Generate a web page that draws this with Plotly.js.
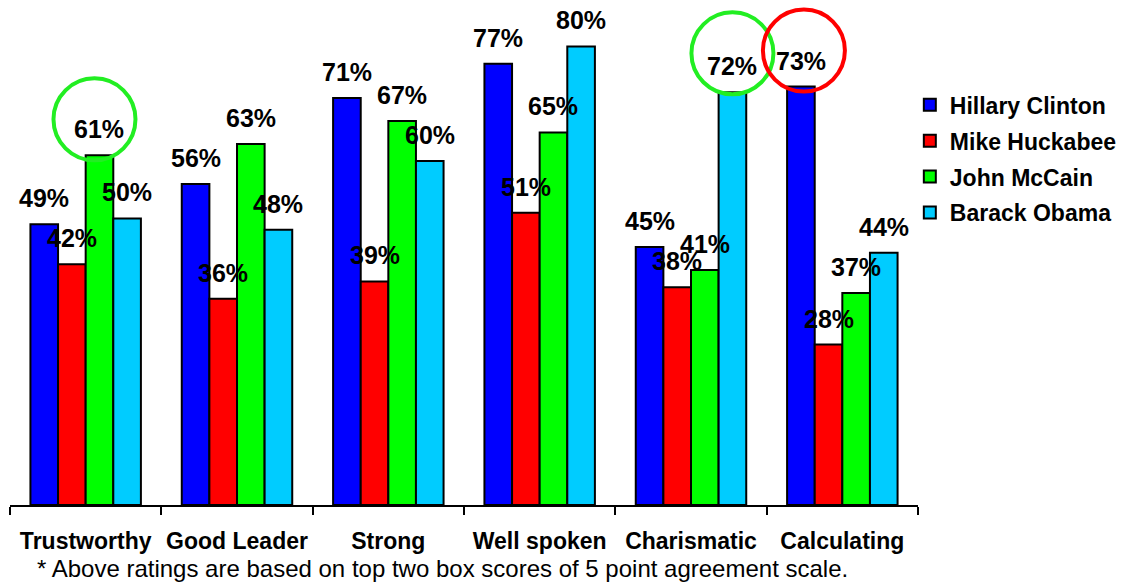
<!DOCTYPE html>
<html>
<head>
<meta charset="utf-8">
<script src="https://cdn.plot.ly/plotly-3.0.1.min.js"></script>
<style>html,body{margin:0;padding:0;background:#fff}#chart{width:1130px;height:582px}</style>
</head>
<body>
<div id="chart"></div>
<script>
const categories = ["Trustworthy", "Good Leader", "Strong", "Well spoken", "Charismatic", "Calculating"];
const seriesNames = ["Hillary Clinton", "Mike Huckabee", "John McCain", "Barack Obama"];
const clinton = [49, 56, 71, 77, 45, 73];
const huckabee = [42, 36, 39, 51, 38, 28];
const mccain = [61, 63, 67, 65, 41, 37];
const obama = [50, 48, 60, 80, 72, 44];
const footnote = "* Above ratings are based on top two box scores of 5 point agreement scale.";
// highlighted values: [category index, series index, circle colour]
const circled = [[0, 2, "#22EE22"], [4, 3, "#22EE22"], [5, 0, "#FF0000"]];
const circleShift = [[-5, -3], [0, 0], [3, -3]];

const seriesValues = [clinton, huckabee, mccain, obama];
const colors = ["#0000FF", "#FF0000", "#00FF00", "#00CCFF"];
const bargap = 0.27;
const nSeries = seriesValues.length;
const barW = (1 - bargap) / nSeries;
const offsetOf = s => (s - (nSeries - 1) / 2) * barW;
const FONT = "Liberation Sans, Arial, sans-serif";

const traces = seriesValues.map((vals, s) => ({
  type: "bar",
  name: seriesNames[s],
  legendgroup: "g" + s,
  x: categories,
  y: vals,
  marker: {color: colors[s], line: {color: "#000", width: 2}},
  hoverinfo: "skip"
}));

const annotations = [];
seriesValues.forEach((vals, s) => {
  vals.forEach((v, i) => {
    annotations.push({
      xref: "x", yref: "y", x: i + offsetOf(s), y: v,
      text: v + "%", showarrow: false, xanchor: "center", yanchor: "middle",
      yshift: 26,
      font: {family: FONT, size: 25, color: "#000", weight: "bold"}
    });
  });
});
annotations.push({
  xref: "paper", yref: "paper", x: 0.476, y: -0.125, xanchor: "center", yanchor: "middle",
  text: footnote, showarrow: false,
  font: {family: FONT, size: 24, color: "#000"}
});

const shapes = circled.map(([i, s, col], k) => ({
  type: "circle", xref: "x", yref: "y",
  xsizemode: "pixel", ysizemode: "pixel",
  xanchor: i + offsetOf(s), yanchor: seriesValues[s][i],
  x0: -41 + circleShift[k][0], x1: 41 + circleShift[k][0],
  y0: -2 + circleShift[k][1], y1: 80 + circleShift[k][1],
  line: {color: col, width: 4}, fillcolor: "rgba(0,0,0,0)"
}));

const layout = {
  width: 1130, height: 582,
  margin: {l: 10, r: 212, t: 0, b: 77},
  paper_bgcolor: "#fff", plot_bgcolor: "#fff",
  barmode: "group", bargap: bargap, bargroupgap: 0,
  showlegend: true,
  legend: {
    x: 0.991, xanchor: "left", y: 0.835, yanchor: "top",
    font: {family: FONT, size: 23, color: "#000", weight: "bold"},
    tracegroupgap: 3, traceorder: "grouped", bgcolor: "rgba(0,0,0,0)"
  },
  xaxis: {
    type: "category", showline: true, linecolor: "#000", linewidth: 2,
    ticks: "outside", tickson: "boundaries", ticklen: 8, tickwidth: 2, tickcolor: "#000",
    ticklabelstandoff: 14, tickangle: 0,
    showgrid: false, zeroline: false,
    tickfont: {family: FONT, size: 23, color: "#000", weight: "bold"}
  },
  yaxis: {visible: false, range: [0, 88.1], showgrid: false, zeroline: false},
  annotations: annotations,
  shapes: shapes
};

Plotly.newPlot("chart", traces, layout, {staticPlot: true});
</script>
</body>
</html>
